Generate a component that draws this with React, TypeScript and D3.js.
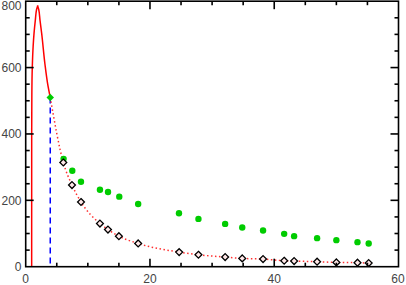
import { useEffect, useRef } from 'react'
import * as d3 from 'd3'

// solid model curve (rise and fall)
const curveX = [0.96, 0.965, 0.99, 1.06, 1.2, 1.34, 1.55, 1.75, 1.93, 2.1, 2.3, 2.57, 3.1, 3.5, 3.95]
const curveY = [0, 400, 520, 600, 665, 703, 743, 775, 788, 775, 743, 703, 610, 555, 510]

// marker at the cut point
const cutX = 3.95
const cutY = 510

// open diamonds (fitted decay)
const diamondX = [6.05, 7.45, 8.9, 11.95, 13.24, 15.0, 18.1, 24.7, 27.8, 32.1, 34.85, 38.2, 41.6, 43.2, 46.9, 50.0, 53.4, 55.2]
const diamondY = [314, 246, 195, 130, 112, 92, 70, 44, 36, 29, 25, 23, 18, 17, 15, 13, 12, 11]

// green dots (measured)
const dotX = [6.1, 7.5, 8.9, 11.95, 13.25, 15.06, 18.1, 24.67, 27.8, 32.1, 34.85, 38.2, 41.6, 43.2, 46.9, 50.0, 53.4, 55.2]
const dotY = [325, 289, 256, 232, 225, 211, 189, 161, 144, 129, 118, 109, 99, 92, 86, 80, 74, 70]

const xTicks = [0, 20, 40, 60]
const yTicks = [0, 200, 400, 600, 800]

export default function App() {
  const svgRef = useRef<SVGSVGElement>(null)
  const width = 406
  const height = 285

  useEffect(() => {
    if (!svgRef.current) return
    const svg = d3.select(svgRef.current)
    svg.selectAll('*').remove()

    const x = d3.scaleLinear().domain([0, 60]).range([25.7, 398.5])
    const y = d3.scaleLinear().domain([0, 800]).range([266.7, 1.2])

    const g = svg.append('g')

    const clip = svg.append('defs').append('clipPath').attr('id', 'plot-clip')
    clip.append('rect')
      .attr('x', x(0)).attr('y', y(800))
      .attr('width', x(60) - x(0)).attr('height', y(0) - y(800))

    const plot = g.append('g').attr('clip-path', 'url(#plot-clip)')

    // solid red curve
    const solid = curveX.map((v, i) => [v, curveY[i]] as [number, number])
    plot.append('path')
      .datum(solid)
      .attr('fill', 'none')
      .attr('stroke', '#ff0000')
      .attr('stroke-width', 1.5)
      .attr('d', d3.line().x(d => x(d[0])).y(d => y(d[1])).curve(d3.curveMonotoneY))

    // blue dashed drop line
    plot.append('line')
      .attr('x1', x(cutX)).attr('x2', x(cutX))
      .attr('y1', y(cutY)).attr('y2', y(0))
      .attr('stroke', '#0000ff')
      .attr('stroke-width', 1.5)
      .attr('stroke-dasharray', '6,4')

    // red dotted decay curve
    const decay = [[cutX, cutY] as [number, number]].concat(
      diamondX.map((v, i) => [v, diamondY[i]] as [number, number])
    )
    plot.append('path')
      .datum(decay)
      .attr('fill', 'none')
      .attr('stroke', '#ff3030')
      .attr('stroke-width', 1.5)
      .attr('stroke-dasharray', '1.5,2.5')
      .attr('d', d3.line().x(d => x(d[0])).y(d => y(d[1])).curve(d3.curveMonotoneX))

    // green dots
    plot.selectAll('.dot')
      .data(dotX.map((v, i) => [v, dotY[i]]))
      .enter().append('circle')
      .attr('cx', d => x(d[0]))
      .attr('cy', d => y(d[1]))
      .attr('r', 3.2)
      .attr('fill', '#00cc00')

    // open diamonds
    const diamond = d3.symbol().type(d3.symbolDiamond2).size(30)
    plot.selectAll('.diamond')
      .data(diamondX.map((v, i) => [v, diamondY[i]]))
      .enter().append('path')
      .attr('transform', d => `translate(${x(d[0])},${y(d[1])})`)
      .attr('d', diamond)
      .attr('fill', '#ffe8e8')
      .attr('stroke', '#000')
      .attr('stroke-width', 1.3)

    // green diamond at cut point
    plot.append('path')
      .attr('transform', `translate(${x(cutX)},${y(cutY)})`)
      .attr('d', d3.symbol().type(d3.symbolDiamond2).size(36))
      .attr('fill', '#00cc00')

    // frame
    const frame = g.append('g').attr('stroke', '#000').attr('stroke-width', 1.6)
    frame.append('rect')
      .attr('x', x(0)).attr('y', y(800))
      .attr('width', x(60) - x(0)).attr('height', y(0) - y(800))
      .attr('fill', 'none')

    // inward ticks
    const xMinor = d3.range(5, 60, 5)
    const yMinor = d3.range(50, 800, 50)
    xMinor.forEach(v => {
      const len = v % 20 === 0 ? 8 : 4
      frame.append('line').attr('x1', x(v)).attr('x2', x(v)).attr('y1', y(0)).attr('y2', y(0) - len)
      frame.append('line').attr('x1', x(v)).attr('x2', x(v)).attr('y1', y(800)).attr('y2', y(800) + len)
    })
    yMinor.forEach(v => {
      const len = v % 200 === 0 ? 8 : 4
      frame.append('line').attr('x1', x(0)).attr('x2', x(0) + len).attr('y1', y(v)).attr('y2', y(v))
      frame.append('line').attr('x1', x(60)).attr('x2', x(60) - len).attr('y1', y(v)).attr('y2', y(v))
    })

    // tick labels
    const labels = g.append('g')
      .attr('font-family', '"Liberation Sans", Arial, sans-serif')
      .attr('font-size', 12)
      .attr('fill', '#444')
    labels.selectAll('.xl')
      .data(xTicks)
      .enter().append('text')
      .attr('x', d => Math.min(x(d), width - 8))
      .attr('y', 283)
      .attr('text-anchor', 'middle')
      .text(d => d)
    labels.selectAll('.yl')
      .data(yTicks)
      .enter().append('text')
      .attr('x', 21.5)
      .attr('y', d => Math.max(y(d), 6) + 4.3)
      .attr('text-anchor', 'end')
      .text(d => d)
  }, [])

  return (
    <svg
      ref={svgRef}
      width={width}
      height={height}
      style={{ position: 'absolute', left: 0, top: 0, background: '#fff' }}
    />
  )
}
